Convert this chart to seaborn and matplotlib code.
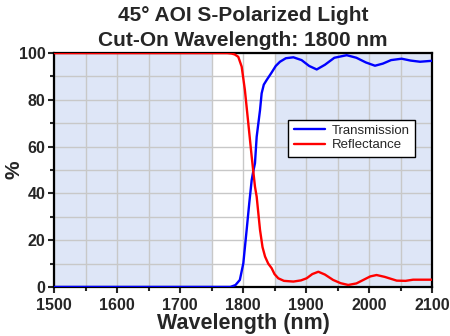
import pandas as pd
import matplotlib.pyplot as plt
import seaborn as sns

# 투과율 (Transmission) 읽은 값
t_nm = [1500, 1780, 1788, 1795, 1800.5, 1805.8, 1810, 1813.8, 1816, 1819, 1821.7,
        1827, 1829.6, 1833, 1837.6, 1845, 1852, 1858.7, 1868, 1880, 1893, 1905,
        1917, 1930, 1945, 1964.6, 1980, 1995, 2009.5, 2022, 2035, 2051.8, 2066,
        2081, 2100]
t_val = [0, 0, 0.8, 3, 10.1, 24.4, 36, 45.7, 49, 52.9, 64.2,
         75.6, 82.8, 86.5, 88.5, 91.5, 94.5, 96.3, 97.8, 98.2, 97, 94.5,
         93.0, 95, 98, 99.1, 98, 96, 94.6, 95.5, 97, 97.6, 96.8,
         96.3, 96.7]

# 반사율 (Reflectance) 읽은 값
r_nm = [1500, 1775, 1782, 1787, 1792.5, 1797.9, 1803, 1808.4, 1813.8, 1819, 1821.7,
        1827, 1831, 1835, 1840, 1845.5, 1850, 1856, 1865, 1880, 1892, 1901,
        1910, 1919.6, 1930, 1943, 1955, 1967, 1980, 1991, 2002, 2012, 2025,
        2044, 2058, 2070, 2085, 2100]
r_val = [100, 100, 99.8, 99.4, 98.4, 94.2, 84.2, 70, 55.7, 42.9, 38.6,
         24.4, 17, 13, 10, 8, 5.5, 3.7, 2.6, 2.3, 2.8, 3.7,
         5.5, 6.5, 5.3, 3, 1.6, 0.85, 1.5, 3, 4.5, 5.1, 4.3,
         2.7, 2.6, 3.1, 3.1, 3.1]

df_t = pd.DataFrame({'nm': t_nm, 'val': t_val})
df_r = pd.DataFrame({'nm': r_nm, 'val': r_val})

sns.set_style('ticks')
plt.rcParams['font.family'] = ['Liberation Sans', 'DejaVu Sans']

fig = plt.figure(figsize=(4.5, 3.36), dpi=100)
ax = fig.add_axes([0.12, 0.146, 0.84, 0.696])

# 음영 구간
ax.axvspan(1500, 1750, color='#dee6f7', zorder=0, lw=0)
ax.axvspan(1850, 2100, color='#dee6f7', zorder=0, lw=0)

sns.lineplot(data=df_t, x='nm', y='val', color='#0000ff', lw=1.7,
             label='Transmission', ax=ax, zorder=3)
sns.lineplot(data=df_r, x='nm', y='val', color='#ff0000', lw=1.7,
             label='Reflectance', ax=ax, zorder=3)

ax.set_xlim(1500, 2100)
ax.set_ylim(0, 100)
ax.set_xticks(range(1500, 2101, 100))
ax.set_xticks(range(1550, 2100, 100), minor=True)
ax.set_yticks(range(0, 101, 20))
ax.set_yticks(range(10, 100, 20), minor=True)
ax.grid(which='both', color='#c8c8c8', lw=1, zorder=1)
ax.set_axisbelow(True)

for s in ax.spines.values():
    s.set_linewidth(1.6)
    s.set_color('black')
ax.tick_params(which='both', direction='out', width=1.5, length=4, labelsize=11.5,
               pad=2)
ax.tick_params(axis='x', pad=4)
ax.tick_params(which='minor', length=3)
for lbl in ax.get_xticklabels() + ax.get_yticklabels():
    lbl.set_fontweight('bold')

ax.set_xlabel('Wavelength (nm)', fontsize=15.5, fontweight='bold', labelpad=0)
ax.set_ylabel('%', fontsize=15, fontweight='bold')
ax.yaxis.set_label_coords(-0.082, 0.5)
ax.set_title('45° AOI S-Polarized Light\nCut-On Wavelength: 1800 nm',
             fontsize=15, fontweight='bold', linespacing=1.4, pad=5)

leg = ax.legend(loc='upper left', bbox_to_anchor=(0.62, 0.716), fontsize=9.5,
                frameon=True, fancybox=False, framealpha=1, edgecolor='black',
                handlelength=2.4, borderpad=0.4, labelspacing=0.15,
                borderaxespad=0, handletextpad=0.5)
leg.get_frame().set_linewidth(1)

plt.savefig('out.png', dpi=100)
